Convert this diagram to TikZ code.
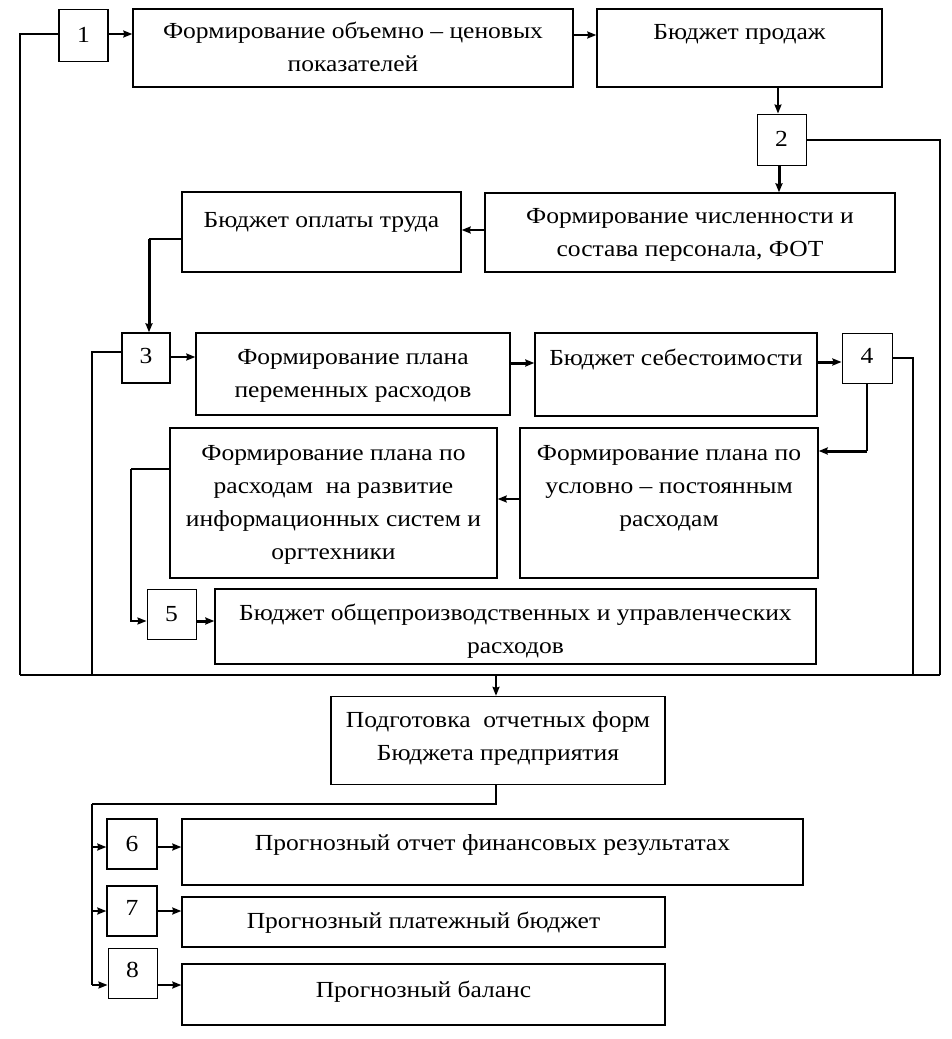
\documentclass[tikz,border=0pt]{standalone}
\usepackage{fontspec}
\setmainfont[FakeStretch=1.11]{Liberation Serif}
\usetikzlibrary{arrows.meta}
\newcommand{\T}[2]{\raisebox{\dimexpr #1-7pt\relax}[0pt][0pt]{\begin{tabular}{@{}c@{}}#2\end{tabular}}}
\begin{document}
\begin{tikzpicture}[x=1pt,y=-1pt,
  box/.style={draw,line width=1.4pt,inner sep=0pt,font=\fontsize{23}{33}\selectfont},
  tbox/.style={box,line width=1pt},
  ln/.style={line width=1.8pt},
  thk/.style={line width=3pt},
  thn/.style={line width=1.1pt},
  arr/.style={-{Stealth[length=9pt,width=7pt,inset=1pt]}}]
\useasboundingbox (0,0) rectangle (951,1039);
% boxes
\node[box,minimum width=49pt,minimum height=52pt] (n1) at (83.5,35.5) {\T{0pt}{1}};
\node[box,minimum width=440pt,minimum height=78pt] (A) at (353,48) {\T{0pt}{Формирование объемно – ценовых\\показателей}};
\node[box,minimum width=285pt,minimum height=78pt] (B) at (739.5,48) {\T{16pt}{Бюджет продаж}};
\node[tbox,minimum width=49pt,minimum height=51pt] (n2) at (781.5,139.5) {\T{0pt}{2}};
\node[box,minimum width=410pt,minimum height=79pt] (C) at (690,232.5) {\T{0pt}{Формирование численности и\\состава персонала, ФОТ}};
\node[box,minimum width=279pt,minimum height=80pt] (D) at (321.5,232) {\T{12pt}{Бюджет оплаты труда}};
\node[box,minimum width=48pt,minimum height=50pt] (n3) at (146,358) {\T{2pt}{3}};
\node[box,minimum width=314pt,minimum height=82pt] (E) at (353,374) {\T{0pt}{Формирование плана\\переменных расходов}};
\node[box,minimum width=282pt,minimum height=83pt] (F) at (676,374.5) {\T{16pt}{Бюджет себестоимости}};
\node[tbox,minimum width=50pt,minimum height=50pt] (n4) at (867,358) {\T{2pt}{4}};
\node[box,minimum width=327pt,minimum height=150pt] (G) at (333.5,503) {\T{0pt}{Формирование плана по\\расходам\ \ на развитие\\информационных систем и\\оргтехники}};
\node[box,minimum width=298pt,minimum height=150pt] (H) at (669,503) {\T{17pt}{Формирование плана по\\условно – постоянным\\расходам}};
\node[tbox,minimum width=49pt,minimum height=50pt] (n5) at (171.5,614) {\T{0pt}{5}};
\node[box,minimum width=601pt,minimum height=75pt] (I) at (515.5,626.5) {\T{-3pt}{Бюджет общепроизводственных и управленческих\\расходов}};
\node[box,minimum width=334pt,minimum height=88pt] (J) at (498,740.5) {\T{4pt}{Подготовка\ \ отчетных форм\\Бюджета предприятия}};
\node[box,minimum width=50pt,minimum height=50pt] (n6) at (132,844) {\T{0pt}{6}};
\node[box,minimum width=621pt,minimum height=66pt] (K) at (492.5,852) {\T{9pt}{Прогнозный отчет финансовых результатах}};
\node[box,minimum width=50pt,minimum height=50pt] (n7) at (132,911) {\T{3pt}{7}};
\node[box,minimum width=483pt,minimum height=50pt] (L) at (423.5,922) {\T{1pt}{Прогнозный платежный бюджет}};
\node[tbox,minimum width=49pt,minimum height=50pt] (n8) at (132.5,973) {\T{3pt}{8}};
\node[box,minimum width=483pt,minimum height=61pt] (M) at (423.5,994.5) {\T{4pt}{Прогнозный баланс}};
% coordinates
\coordinate (bl) at (20,675);
\coordinate (br) at (940,675);
\coordinate (bm) at (496,675);
\coordinate (fork) at (92,804);
% top chain
\draw[ln,arr] (n1.east |- 0,34) -- (A.west |- 0,34);
\draw[ln,arr] (A.east |- 0,35) -- (B.west |- 0,35);
\draw[ln,arr] (B.south -| 778,0) -- (n2.north -| 778,0);
\draw[thk,arr] (n2.south -| 779,0) -- (C.north -| 779,0);
\draw[ln,arr] (C.west |- 0,230) -- (D.east |- 0,230);
\draw[thn] (D.west |- 0,239) -- (149,239);
\draw[thk,arr] (149,239) -- (n3.north -| 149,0);
\draw[ln,arr] (n3.east |- 0,357) -- (E.west |- 0,357);
\draw[thk,arr] (E.east |- 0,363) -- (F.west |- 0,363);
\draw[thk,arr] (F.east |- 0,362) -- (n4.west |- 0,362);
\draw[thn] (n4.south -| 867,0) -- (867,451);
\draw[thk,arr] (867,451) -- (H.east |- 0,451);
\draw[ln,arr] (H.west |- 0,499) -- (G.east |- 0,499);
\draw[ln] (G.west |- 0,469) -- (131,469);
\draw[ln,arr] (131,469) |- (n5.west |- 0,621);
\draw[thk,arr] (n5.east |- 0,621) -- (I.west |- 0,621);
% feedback lines
\draw[ln] (n1.west |- 0,34) -| (bl);
\draw[ln] (n2.east |- 0,140) -| (br);
\draw[ln] (n3.west |- 0,352) -| (92,675);
\draw[ln] (n4.east |- 0,358) -| (913,675);
\draw[ln] (bl) -- (br);
\draw[ln,arr] (bm) -- (J.north -| bm);
% bottom fork
\draw[ln] (J.south -| bm) |- (fork);
\draw[ln] (fork) -- (92,985);
\draw[ln,arr] (92,847) -- (n6.west |- 0,847);
\draw[ln,arr] (92,911) -- (n7.west |- 0,911);
\draw[ln,arr] (92,985) -- (n8.west |- 0,985);
\draw[ln,arr] (n6.east |- 0,847) -- (K.west |- 0,847);
\draw[ln,arr] (n7.east |- 0,911) -- (L.west |- 0,911);
\draw[ln,arr] (n8.east |- 0,985) -- (M.west |- 0,985);
\end{tikzpicture}
\end{document}
